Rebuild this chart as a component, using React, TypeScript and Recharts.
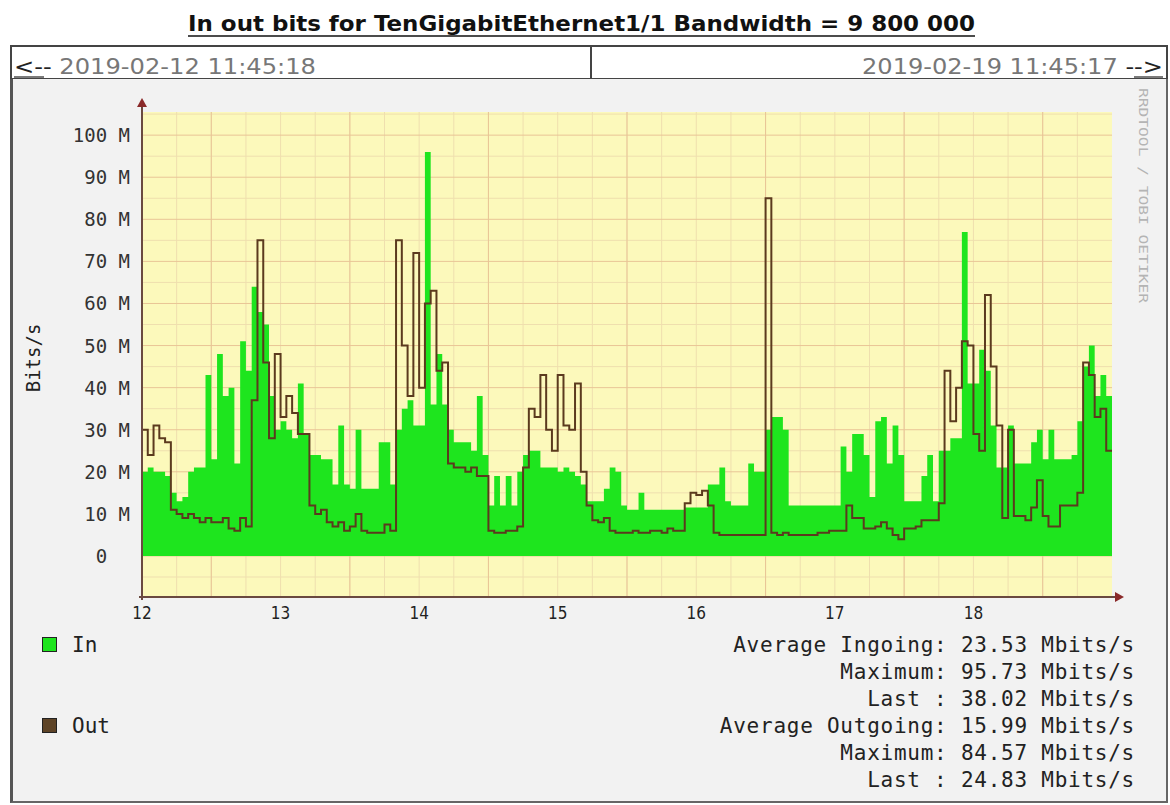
import React from 'react';
import { ComposedChart, Area, Line, XAxis, YAxis, CartesianGrid } from 'recharts';

// hourly samples over the 7 day window, Mbit/s
const inBits = [
  20, 21, 20, 20, 19, 15, 13, 14, 20, 21,
  21, 43, 23, 48, 38, 40, 22, 51, 44, 64,
  58, 55, 38, 30, 32, 30, 28, 41, 29, 24,
  24, 23, 23, 17, 31, 17, 16, 30, 16, 16,
  16, 27, 27, 17, 30, 35, 37, 31, 31, 96,
  36, 48, 36, 30, 27, 27, 27, 25, 38, 24,
  12, 19, 12, 19, 12, 20, 24, 25, 25, 21,
  21, 21, 20, 21, 20, 19, 17, 13, 13, 13,
  16, 21, 20, 12, 11, 11, 15, 11, 11, 11,
  11, 11, 11, 11, 11.5, 11.5, 11.5, 11.5, 17, 17,
  21, 13, 12, 12, 12, 22, 20, 20, 30, 33,
  33, 30, 12, 12, 12, 12, 12, 12, 12, 12,
  12, 26, 20, 29, 29, 24, 14, 32, 33, 22,
  31, 24, 13, 13, 13, 19, 24, 13, 25, 25,
  28, 28, 77, 41, 41, 49, 44, 31, 21, 21,
  31, 22, 22, 22, 27, 30, 23, 30, 23, 23,
  23, 24, 32, 45, 50, 38, 43, 38,
];

const outBits = [
  30, 24, 31, 28, 27, 11, 10, 9, 10, 9,
  8, 9, 8, 8, 9, 6.5, 6, 9, 7, 37,
  75, 46, 28, 48, 33, 38, 34, 29, 29, 12,
  10, 11, 8, 7, 8, 6, 7, 10, 6, 5.5,
  5.5, 5.5, 7.5, 6, 75, 50, 38, 72, 40, 60,
  63, 44, 46, 22, 21, 21, 20, 21, 19, 19,
  6, 5.5, 5.5, 6, 6, 7, 21, 35, 33, 43,
  30, 25, 43, 31, 30, 41, 20, 12, 8.5, 8,
  9, 6, 5.5, 5.5, 5.5, 6, 5.5, 5.5, 6, 6,
  5.5, 6.5, 6, 6, 12.5, 15, 14.5, 15.5, 12, 5.5,
  5, 5, 5, 5, 5, 5, 5, 5, 85, 5.5,
  5, 5.5, 5, 5, 5, 5, 5, 5.5, 5.5, 6,
  6, 6, 12, 9, 9, 6.5, 6.5, 7, 8, 6.5,
  5, 4, 6.5, 6.5, 7, 8.5, 8.5, 8.5, 12.5, 44,
  32, 40, 51, 50, 29, 25, 62, 45, 31, 9,
  30, 9.5, 9.5, 8.5, 11.5, 18, 9.5, 7, 7, 12,
  12, 12, 15, 46, 43, 33, 35, 25,
];

const dayLabels = ['12', '13', '14', '15', '16', '17', '18'];
const dayTicks = [0, 24, 48, 72, 96, 120, 144];
const yTicks = [0, 10, 20, 30, 40, 50, 60, 70, 80, 90, 100];
const yMinor = [-5, 5, 15, 25, 35, 45, 55, 65, 75, 85, 95, 105];
const hourMinor = [6, 12, 18, 24, 30, 36, 42, 48, 54, 60, 66, 72, 78, 84, 90, 96, 102, 108, 114, 120, 126, 132, 138, 144, 150, 156, 162];
const hourMajor = [12, 36, 60, 84, 108, 132, 156];

const statLines = [
  'Average Ingoing: 23.53 Mbits/s',
  'Maximum: 95.73 Mbits/s',
  'Last : 38.02 Mbits/s',
  'Average Outgoing: 15.99 Mbits/s',
  'Maximum: 84.57 Mbits/s',
  'Last : 24.83 Mbits/s',
];

const IN_COLOR = '#1ee51e';
const OUT_COLOR = '#5b3a1e';
const MONO = '"DejaVu Sans Mono", monospace';
const NARROW = '"DejaVu Sans Condensed", "Liberation Sans Narrow", "DejaVu Sans", sans-serif';

const chartData = inBits.map((v, i) => ({ hour: i, in: v, out: outBits[i] }));
// close the last step at the right edge
chartData.push({ hour: 168, in: inBits[inBits.length - 1], out: outBits[outBits.length - 1] });

const XTick = (props: any) => {
  const { x, y, payload } = props;
  const idx = dayTicks.indexOf(payload.value);
  return (
    <text x={x} y={y + 16} textAnchor="middle" dominantBaseline="central"
      fontFamily={NARROW} fontSize={17} fill="#222">
      {dayLabels[idx]}
    </text>
  );
};

const YTick = (props: any) => {
  const { x, y, payload } = props;
  const label = payload.value === 0 ? '0\u00a0\u00a0' : `${payload.value} M`;
  return (
    <text x={x - 12} y={y} textAnchor="end" dominantBaseline="central"
      fontFamily={MONO} fontSize={19} fill="#333">
      {label}
    </text>
  );
};

export default function App() {
  return (
    <div style={{ position: 'absolute', left: 0, top: 0, width: 1170, height: 805, background: '#fff', overflow: 'hidden' }}>
      {/* header: title + navigation bar */}
      <svg width={1170} height={80} style={{ position: 'absolute', left: 0, top: 0 }}>
        <text x={188} y={31} fontFamily='"DejaVu Sans", sans-serif' fontWeight="bold" fontSize={21}
          textLength={787} lengthAdjust="spacingAndGlyphs" fill="#111">
          In out bits for TenGigabitEthernet1/1 Bandwidth = 9 800 000
        </text>
        <line x1={188} x2={975} y1={36} y2={36} stroke="#111" strokeWidth={1.6} />
        <rect x={11} y={46} width={1156} height={33} fill="#fff" stroke="#444" strokeWidth={2} />
        <line x1={591} x2={591} y1={46} y2={79} stroke="#444" strokeWidth={2} />
        <text x={14} y={74} fontFamily={NARROW} fontSize={22} textLength={302} lengthAdjust="spacingAndGlyphs">
          <tspan fill="#222">&lt;--</tspan>
          <tspan fill="#777"> 2019-02-12 11:45:18</tspan>
        </text>
        <line x1={14} x2={44} y1={77} y2={77} stroke="#222" strokeWidth={1.2} />
        <text x={1163} y={74} textAnchor="end" fontFamily={NARROW} fontSize={22} textLength={301} lengthAdjust="spacingAndGlyphs">
          <tspan fill="#777">2019-02-19 11:45:17 </tspan>
          <tspan fill="#222">--&gt;</tspan>
        </text>
        <line x1={1134} x2={1163} y1={77} y2={77} stroke="#222" strokeWidth={1.2} />
      </svg>

      {/* graph panel */}
      <div style={{
        position: 'absolute', left: 10, top: 79, width: 1153, height: 722,
        background: '#f2f2f2', borderLeft: '3px solid #555', borderRight: '2px solid #666', borderBottom: '2px solid #666',
      }} />

      <div style={{ position: 'absolute', left: 0, top: 80 }}>
        <ComposedChart width={1170} height={725} data={chartData}
          margin={{ top: 32, right: 58, bottom: 0, left: 0 }}>
          <CartesianGrid fill="#fcf9bb" stroke="#efdfae" strokeWidth={1}
            horizontalValues={yMinor} verticalValues={hourMinor} />
          <CartesianGrid fill="none" stroke="#e9c596" strokeWidth={1}
            horizontalValues={yTicks} verticalValues={hourMajor} />
          <XAxis dataKey="hour" type="number" domain={[0, 168]} ticks={dayTicks}
            axisLine={false} tickLine={false} tickSize={0} tickMargin={0} height={208}
            tick={<XTick />} interval={0} />
          <YAxis type="number" domain={[-9.75, 105.5]} ticks={yTicks} allowDataOverflow
            axisLine={false} tickLine={false} tickSize={0} tickMargin={0} width={142}
            tick={<YTick />} interval={0} />
          <Area dataKey="in" type="stepAfter" fill={IN_COLOR} fillOpacity={1} stroke="none"
            baseValue={0} isAnimationActive={false} dot={false} activeDot={false} />
          <Line dataKey="out" type="stepAfter" stroke={OUT_COLOR} strokeWidth={2}
            dot={false} activeDot={false} isAnimationActive={false} />
        </ComposedChart>
      </div>

      {/* axis lines with arrow heads, vertical label, watermark */}
      <svg width={1170} height={805} style={{ position: 'absolute', left: 0, top: 0, pointerEvents: 'none' }}>
        <line x1={142} x2={142} y1={600} y2={106} stroke="#6a4a40" strokeWidth={2} />
        <polygon points="137,107 147,107 142,98" fill="#8a2a2a" />
        <line x1={139} x2={1116} y1={597} y2={597} stroke="#6a4a40" strokeWidth={2} />
        <polygon points="1115,592 1115,602 1124,597" fill="#8a2a2a" />
        <text transform="translate(40,358) rotate(-90)" textAnchor="middle" fontFamily={MONO}
          fontSize={19} fill="#222">Bits/s</text>
        <text transform="translate(1139,88) rotate(90)" fontFamily={MONO} fontSize={12}
          textLength={215} lengthAdjust="spacingAndGlyphs" fill="#b4b4b4">RRDTOOL / TOBI OETIKER</text>
      </svg>

      {/* legend */}
      <div style={{ position: 'absolute', left: 42, top: 637, width: 13, height: 13, background: IN_COLOR, border: '1.5px solid #222' }} />
      <div style={{ position: 'absolute', left: 72, top: 632, fontFamily: MONO, fontSize: 21, color: '#222', lineHeight: '26px' }}>In</div>
      <div style={{ position: 'absolute', left: 42, top: 718, width: 13, height: 13, background: '#5e4427', border: '1.5px solid #222' }} />
      <div style={{ position: 'absolute', left: 72, top: 713, fontFamily: MONO, fontSize: 21, color: '#222', lineHeight: '26px' }}>Out</div>

      {/* summary statistics */}
      <div style={{ position: 'absolute', right: 1170 - 1135, top: 632, textAlign: 'right' }}>
        {statLines.map((s) => (
          <div key={s} style={{ fontFamily: MONO, fontSize: 21, letterSpacing: 0.75, color: '#222', lineHeight: '27px', whiteSpace: 'pre' }}>{s}</div>
        ))}
      </div>
    </div>
  );
}
